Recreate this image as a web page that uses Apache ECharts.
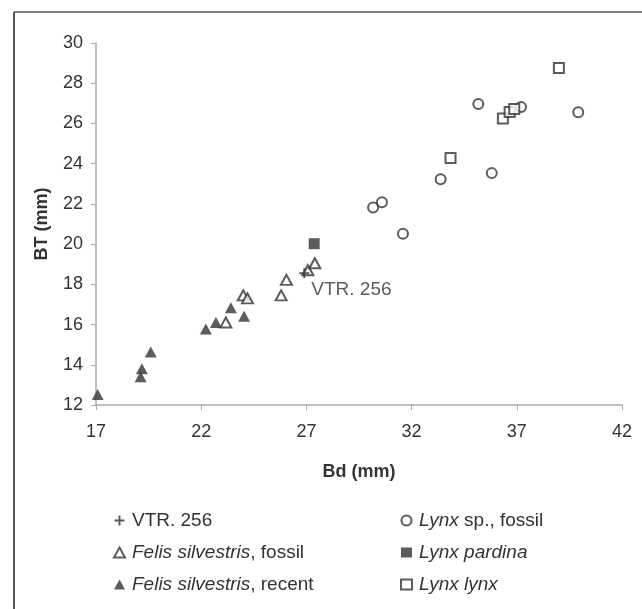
<!DOCTYPE html>
<html>
<head>
<meta charset="utf-8">
<script src="https://cdn.jsdelivr.net/npm/echarts@6/dist/echarts.min.js"></script>
<style>
html,body{margin:0;padding:0;background:#fff;}
#c{width:642px;height:609px;}
</style>
</head>
<body>
<div id="c"></div>
<script>
// ---- data ----
const vtrX = [26.9];
const vtrY = [18.55];
const felisFossilX = [23.17, 24.0, 24.2, 25.8, 26.05, 27.07, 27.4];
const felisFossilY = [16.1, 17.45, 17.3, 17.45, 18.22, 18.7, 19.05];
const felisRecentX = [17.08, 19.12, 19.18, 19.6, 22.22, 22.7, 23.41, 24.04];
const felisRecentY = [12.52, 13.4, 13.8, 14.64, 15.78, 16.1, 16.83, 16.41];
const lynxSpX = [35.17, 37.2, 39.92, 35.81, 33.38, 30.59, 30.17, 31.59];
const lynxSpY = [26.97, 26.82, 26.56, 23.53, 23.22, 22.08, 21.82, 20.52];
const pardinaX = [27.37];
const pardinaY = [20.02];
const lynxLynxX = [39.0, 33.85, 36.34, 36.66, 36.88];
const lynxLynxY = [28.76, 24.28, 26.25, 26.57, 26.72];

const xTicks = [17, 22, 27, 32, 37, 42];
const yTicks = [12, 14, 16, 18, 20, 22, 24, 26, 28, 30];

const names = {
  vtr: 'VTR. 256',
  ff: 'Felis silvestris, fossil',
  fr: 'Felis silvestris, recent',
  ls: 'Lynx sp., fossil',
  lp: 'Lynx pardina',
  ll: 'Lynx lynx'
};
const legendLabels = {
  'VTR. 256': 'VTR. 256',
  'Felis silvestris, fossil': '{i|Felis silvestris}, fossil',
  'Felis silvestris, recent': '{i|Felis silvestris}, recent',
  'Lynx sp., fossil': '{i|Lynx} sp., fossil',
  'Lynx pardina': '{i|Lynx pardina}',
  'Lynx lynx': '{i|Lynx lynx}'
};

function pairs(xs, ys) { return xs.map((x, i) => [x, ys[i]]); }

const DARK = '#333333';
const FONT = 'Liberation Sans, Arial, sans-serif';
const PLUS = 'path://M4,0H6V4H10V6H6V10H4V6H0V4H4Z';

const hollow = { color: '#ffffff', borderColor: DARK, borderWidth: 2 };
const filled = { color: DARK, borderColor: DARK, borderWidth: 0 };

const legendText = {
  color: DARK, fontFamily: FONT, fontSize: 19, padding: [0, 0, 0, 2],
  rich: { i: { fontStyle: 'italic', color: DARK, fontFamily: FONT, fontSize: 19 } }
};

const chart = echarts.init(document.getElementById('c'), null, { renderer: 'canvas' });
chart.setOption({
  animation: false,
  backgroundColor: '#ffffff',
  graphic: [
    { type: 'line', shape: { x1: 14, y1: 12, x2: 14, y2: 609 }, style: { stroke: '#555', lineWidth: 2 } },
    { type: 'line', shape: { x1: 14, y1: 12, x2: 642, y2: 12 }, style: { stroke: '#555', lineWidth: 1.5 } }
  ],
  grid: { left: 96, right: 20, top: 43, bottom: 204, containLabel: false },
  xAxis: {
    type: 'value', min: xTicks[0], max: xTicks[xTicks.length - 1], interval: 5,
    name: 'Bd (mm)', nameLocation: 'middle', nameGap: 58,
    nameTextStyle: { fontFamily: FONT, fontSize: 18, fontWeight: 'bold', color: DARK },
    axisLine: { lineStyle: { color: '#aaaaaa', width: 1.5 } },
    axisTick: { show: true, length: 5, inside: false, lineStyle: { color: '#aaaaaa' } },
    axisLabel: { margin: 18, fontFamily: FONT, fontSize: 18, color: DARK },
    splitLine: { show: false }
  },
  yAxis: {
    type: 'value', min: yTicks[0], max: yTicks[yTicks.length - 1], interval: 2,
    name: 'BT (mm)', nameLocation: 'middle', nameGap: 45, nameRotate: 90,
    nameTextStyle: { fontFamily: FONT, fontSize: 18, fontWeight: 'bold', color: DARK },
    axisLine: { show: true, lineStyle: { color: '#aaaaaa', width: 1.5 } },
    axisTick: { show: true, length: 5, inside: false, lineStyle: { color: '#aaaaaa' } },
    axisLabel: { margin: 13, fontFamily: FONT, fontSize: 18, color: DARK },
    splitLine: { show: false }
  },
  legend: [
    {
      left: 113, top: 511, padding: 0, orient: 'vertical', itemGap: 13,
      itemWidth: 11, itemHeight: 10,
      textStyle: legendText,
      formatter: n => legendLabels[n],
      data: [
        { name: names.vtr, icon: PLUS, itemStyle: filled },
        { name: names.ff, icon: 'triangle', itemStyle: hollow },
        { name: names.fr, icon: 'triangle', itemStyle: filled }
      ]
    },
    {
      left: 400, top: 511, padding: 0, orient: 'vertical', itemGap: 13,
      itemWidth: 11, itemHeight: 10,
      textStyle: legendText,
      formatter: n => legendLabels[n],
      data: [
        { name: names.ls, icon: 'circle', itemStyle: hollow },
        { name: names.lp, icon: 'rect', itemStyle: filled },
        { name: names.ll, icon: 'rect', itemStyle: hollow }
      ]
    }
  ],
  series: [
    {
      name: names.fr, type: 'scatter', symbol: 'triangle', symbolSize: [12, 11],
      itemStyle: filled, data: pairs(felisRecentX, felisRecentY)
    },
    {
      name: names.ff, type: 'scatter', symbol: 'triangle', symbolSize: [11, 10],
      itemStyle: hollow, data: pairs(felisFossilX, felisFossilY)
    },
    {
      name: names.ls, type: 'scatter', symbol: 'circle', symbolSize: 10,
      itemStyle: hollow, data: pairs(lynxSpX, lynxSpY)
    },
    {
      name: names.ll, type: 'scatter', symbol: 'rect', symbolSize: 10,
      itemStyle: hollow, data: pairs(lynxLynxX, lynxLynxY)
    },
    {
      name: names.lp, type: 'scatter', symbol: 'rect', symbolSize: 11,
      itemStyle: filled, data: pairs(pardinaX, pardinaY)
    },
    {
      name: names.vtr, type: 'scatter', symbol: PLUS, symbolSize: 10,
      itemStyle: filled, data: pairs(vtrX, vtrY),
      label: {
        show: true, position: 'right', distance: 2, offset: [0, 16],
        formatter: names.vtr, fontFamily: FONT, fontSize: 19, color: DARK
      }
    }
  ]
});
</script>
</body>
</html>
